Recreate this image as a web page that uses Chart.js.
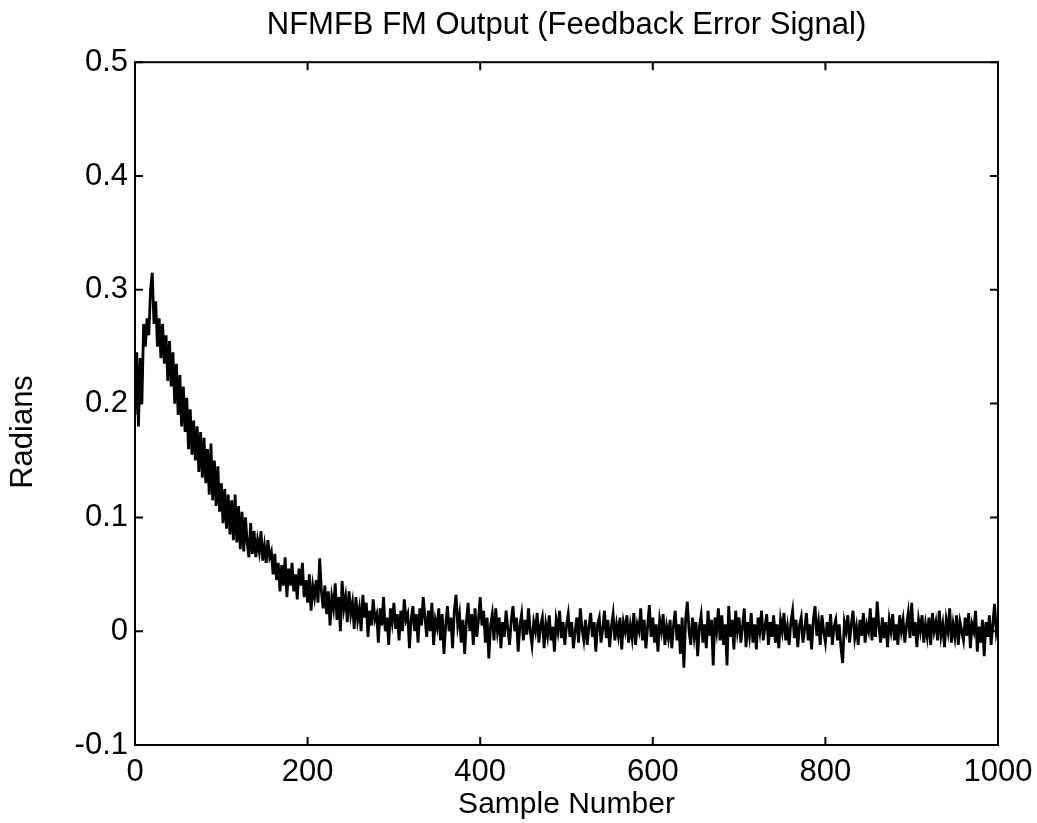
<!DOCTYPE html>
<html>
<head>
<meta charset="utf-8">
<title>NFMFB FM Output</title>
<script src="https://cdn.jsdelivr.net/npm/chart.js@4.4.1/dist/chart.umd.min.js"></script>
<style>
  html, body { margin: 0; padding: 0; background: #fff; }
  #wrap { width: 1037px; height: 823px; }
</style>
</head>
<body>
<div id="wrap"><canvas id="errorChart" width="1037" height="823"></canvas></div>
<script>
// feedback error, every 2 samples (0..1000)
const sampleStep = 2;
const errorRadians = [
  0.19, 0.245, 0.18, 0.24, 0.2, 0.27, 0.25, 0.275, 0.26, 0.30,
  0.315, 0.27, 0.29, 0.25, 0.275, 0.24, 0.27, 0.235, 0.26, 0.22,
  0.255, 0.215, 0.245, 0.2, 0.235, 0.19, 0.225, 0.18, 0.215, 0.175,
  0.205, 0.16, 0.195, 0.155, 0.185, 0.15, 0.18, 0.14, 0.175, 0.135,
  0.17, 0.13, 0.16, 0.12, 0.165, 0.115, 0.15, 0.11, 0.145, 0.105,
  0.13, 0.095, 0.125, 0.09, 0.12, 0.085, 0.115, 0.08, 0.12, 0.078,
  0.11, 0.072, 0.105, 0.07, 0.1, 0.078, 0.065, 0.095, 0.068, 0.088,
  0.065, 0.08, 0.07, 0.088, 0.062, 0.075, 0.06, 0.08, 0.065, 0.07,
  0.05, 0.068, 0.045, 0.06, 0.035, 0.058, 0.04, 0.065, 0.03, 0.055,
  0.04, 0.06, 0.035, 0.05, 0.028, 0.055, 0.04, 0.06, 0.03, 0.045,
  0.025, 0.05, 0.018, 0.04, 0.03, 0.045, 0.025, 0.064, 0.035, 0.02,
  0.04, 0.015, 0.035, 0.005, 0.03, 0.02, 0.042, 0.01, 0.03, 0.0,
  0.044, 0.02, 0.03, 0.008, 0.035, 0.015, 0.025, 0.002, 0.03, 0.01,
  0.02, 0.0, 0.032, 0.012, 0.025, -0.005, 0.018, 0.005, 0.028, 0.01,
  0.015, -0.01, 0.02, 0.005, 0.03, 0.0, 0.012, -0.012, 0.02, 0.008,
  0.025, 0.002, 0.015, -0.008, 0.018, 0.0, 0.028, 0.01, 0.015, -0.015,
  0.01, 0.022, 0.0, 0.015, -0.01, 0.02, 0.005, 0.03, 0.012, -0.005,
  0.018, 0.0, 0.025, -0.012, 0.01, 0.003, 0.02, -0.008, 0.015, -0.02,
  0.005, 0.022, 0.0, 0.012, -0.015, 0.018, 0.032, 0.005, 0.015, -0.01,
  0.01, -0.02, 0.008, 0.025, 0.0, 0.015, -0.012, 0.02, -0.005, 0.01,
  0.03, 0.005, 0.018, -0.01, 0.012, -0.024, 0.005, 0.015, -0.008, 0.02,
  0.0, 0.012, -0.015, 0.008, -0.005, 0.018, 0.002, -0.012, 0.01, 0.022,
  0.0, 0.012, -0.018, 0.005, 0.015, -0.008, 0.01, -0.003, 0.02, 0.0,
  -0.012, 0.008, 0.0, 0.016, -0.01, 0.005, 0.012, -0.015, 0.006, -0.004,
  0.014, -0.008, 0.004, -0.018, 0.01, 0.0, 0.018, -0.006, 0.008, -0.012,
  0.005, 0.015, -0.005, 0.008, -0.015, 0.0, 0.012, -0.01, 0.02, 0.002,
  -0.008, 0.01, -0.012, 0.004, 0.016, -0.005, 0.008, -0.018, 0.006, 0.012,
  -0.01, 0.002, 0.018, -0.006, 0.01, -0.014, 0.004, 0.015, -0.008, 0.006,
  -0.004, 0.012, -0.016, 0.008, 0.0, 0.014, -0.01, 0.005, -0.006, 0.016,
  -0.012, 0.006, 0.0, 0.02, -0.008, 0.01, -0.015, 0.004, 0.023, -0.005,
  0.012, -0.01, 0.006, -0.018, 0.01, 0.0, 0.015, -0.012, 0.004, -0.006,
  0.01, -0.015, 0.005, 0.018, -0.008, 0.006, -0.02, 0.012, -0.032, 0.01,
  0.026, 0.0, -0.012, 0.012, -0.005, 0.008, -0.022, 0.004, 0.014, -0.01,
  0.006, -0.015, 0.018, -0.004, 0.01, -0.03, 0.012, 0.0, 0.02, -0.008,
  0.014, -0.012, 0.006, -0.03, 0.022, -0.005, 0.01, -0.016, 0.018, 0.0,
  0.012, -0.01, 0.004, 0.02, -0.014, 0.008, -0.004, 0.016, -0.01, 0.006,
  -0.016, 0.012, 0.0, 0.018, -0.008, 0.004, 0.015, -0.012, 0.008, -0.005,
  0.014, -0.01, 0.006, -0.015, 0.01, 0.0, 0.016, -0.008, 0.004, -0.012,
  0.008, 0.018, -0.006, 0.01, -0.014, 0.005, 0.012, -0.01, 0.002, 0.016,
  -0.008, 0.006, -0.016, 0.01, 0.022, -0.004, 0.008, -0.012, 0.014, 0.0,
  -0.01, 0.008, -0.005, 0.015, -0.012, 0.004, 0.01, -0.008, 0.006, -0.014,
  -0.028, 0.008, 0.0, 0.014, -0.01, 0.006, 0.018, -0.006, 0.004, -0.012,
  0.01, -0.004, 0.016, -0.01, 0.006, 0.0, 0.02, -0.008, 0.012, -0.005,
  0.026, 0.004, -0.01, 0.012, -0.006, 0.008, -0.014, 0.01, 0.0, 0.015,
  -0.008, 0.006, -0.012, 0.014, 0.0, 0.01, -0.01, 0.005, 0.016, -0.006,
  0.025, -0.004, 0.008, -0.014, 0.01, 0.0, 0.014, -0.01, 0.006, -0.005,
  0.012, -0.012, 0.016, 0.0, 0.008, -0.008, 0.018, -0.004, 0.006, -0.014,
  0.01, 0.0, 0.02, -0.01, 0.006, -0.005, 0.014, -0.012, 0.008, 0.0,
  -0.008, 0.012, -0.004, 0.016, -0.015, 0.006, 0.0, 0.018, -0.018, 0.004,
  -0.01, 0.01, -0.022, 0.008, -0.005, 0.014, -0.012, 0.006, 0.024, 0.0,
  0.01
];
const xTicks = [0, 200, 400, 600, 800, 1000];
const yTicks = [-0.1, 0, 0.1, 0.2, 0.3, 0.4, 0.5];

const FONT = "'Liberation Sans', Arial, Helvetica, sans-serif";

// matlab style box with inward ticks on all four sides
const boxPlugin = {
  id: 'matlabBox',
  afterDatasetsDraw(chart) {
    const { ctx, chartArea: a, scales } = chart;
    const len = 8;
    ctx.save();
    ctx.strokeStyle = '#000';
    ctx.lineWidth = 2;
    ctx.strokeRect(a.left, a.top, a.right - a.left, a.bottom - a.top);
    ctx.beginPath();
    xTicks.forEach(v => {
      const px = scales.x.getPixelForValue(v);
      ctx.moveTo(px, a.bottom); ctx.lineTo(px, a.bottom - len);
      ctx.moveTo(px, a.top); ctx.lineTo(px, a.top + len);
    });
    yTicks.forEach(v => {
      const py = scales.y.getPixelForValue(v);
      ctx.moveTo(a.left, py); ctx.lineTo(a.left + len, py);
      ctx.moveTo(a.right, py); ctx.lineTo(a.right - len, py);
    });
    ctx.stroke();
    // y label sits a bit below the axis middle in the original
    ctx.fillStyle = '#000';
    ctx.font = '31px ' + FONT;
    ctx.textAlign = 'center';
    ctx.textBaseline = 'middle';
    ctx.translate(23, 432);
    ctx.rotate(-Math.PI / 2);
    ctx.fillText('Radians', 0, 0);
    ctx.restore();
  }
};

window.onload = function () {
  const ctx = document.getElementById('errorChart').getContext('2d');
  const points = errorRadians.map((v, i) => ({ x: i * sampleStep, y: v }));

  new Chart(ctx, {
    type: 'line',
    data: {
      datasets: [{
        label: 'Feedback error',
        data: points,
        borderColor: '#000',
        borderWidth: 2.8,
        pointRadius: 0,
        tension: 0,
        fill: false
      }]
    },
    options: {
      responsive: false,
      animation: false,
      layout: { padding: { left: 0, right: 39, top: 0, bottom: 0 } },
      plugins: {
        legend: { display: false },
        tooltip: { enabled: false },
        title: {
          display: true,
          fullSize: false,
          text: 'NFMFB FM Output (Feedback Error Signal)',
          color: '#000',
          font: { family: FONT, size: 31, weight: 'normal' },
          padding: { top: 7, bottom: 18 }
        }
      },
      scales: {
        x: {
          type: 'linear',
          min: 0,
          max: 1000,
          afterFit: s => { s.height = 78; s.paddingLeft = 0; s.paddingRight = 0; },
          afterBuildTicks: s => { s.ticks = xTicks.map(v => ({ value: v })); },
          grid: { display: false, drawTicks: false },
          border: { display: false },
          ticks: {
            color: '#000', padding: 9, maxRotation: 0,
            font: { family: FONT, size: 31 },
            callback: v => String(v)
          },
          title: {
            display: true,
            text: 'Sample Number',
            color: '#000',
            font: { family: FONT, size: 30 },
            padding: { top: 0, bottom: 0 }
          }
        },
        y: {
          min: -0.1,
          max: 0.5,
          afterFit: s => { s.width = 135; },
          afterBuildTicks: s => { s.ticks = yTicks.map(v => ({ value: v })); },
          grid: { display: false, drawTicks: false },
          border: { display: false },
          ticks: {
            color: '#000', padding: 7,
            font: { family: FONT, size: 31 },
            callback: v => String(v)
          }
        }
      }
    },
    plugins: [boxPlugin]
  });
};
</script>
</body>
</html>
